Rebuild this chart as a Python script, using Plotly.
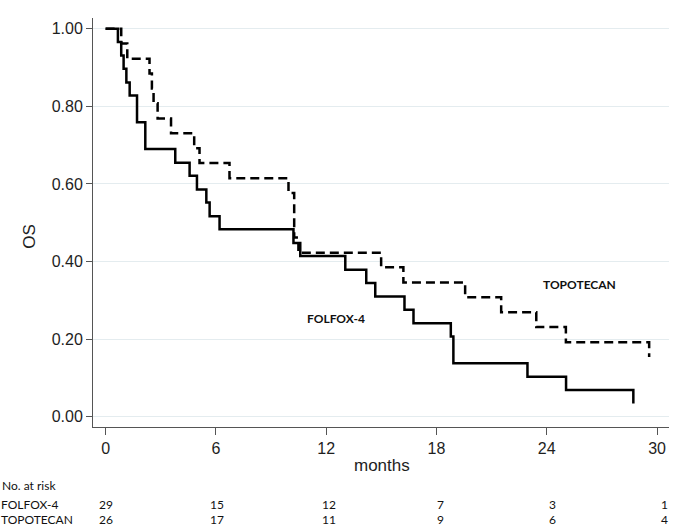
import plotly.graph_objects as go

# Kaplan-Meier step data (months, survival)
folfox_time = [0, 0.67, 0.85, 0.98, 1.13, 1.31, 1.71, 2.16, 3.79, 4.57, 4.97, 5.48, 5.66, 6.20,
               10.22, 10.59, 13.04, 14.18, 14.67, 16.26, 16.75, 18.78, 18.92, 22.95, 25.05, 28.71]
folfox_surv = [1.000, 0.966, 0.931, 0.897, 0.862, 0.828, 0.759, 0.690, 0.655, 0.621, 0.586, 0.552,
               0.517, 0.483, 0.448, 0.414, 0.379, 0.345, 0.310, 0.276, 0.241, 0.207, 0.138, 0.103,
               0.069, 0.034]

topo_time = [0, 0.85, 1.18, 2.39, 2.52, 2.61, 2.83, 3.56, 4.82, 5.11, 6.74, 9.95, 10.26, 10.49,
             14.99, 16.20, 19.56, 21.52, 23.43, 25.04, 29.57]
topo_surv = [1.000, 0.962, 0.923, 0.885, 0.846, 0.808, 0.769, 0.731, 0.692, 0.654, 0.615, 0.577,
             0.462, 0.423, 0.385, 0.346, 0.308, 0.269, 0.231, 0.192, 0.154]

x_ticks = [0, 6, 12, 18, 24, 30]
y_ticks = [0.0, 0.2, 0.4, 0.6, 0.8, 1.0]
y_ticklabels = ["0.00", "0.20", "0.40", "0.60", "0.80", "1.00"]

risk_groups = ["FOLFOX-4", "TOPOTECAN"]
risk_folfox = [29, 15, 12, 7, 3, 1]
risk_topo = [26, 17, 11, 9, 6, 4]

fig = go.Figure()
fig.add_trace(go.Scatter(x=folfox_time, y=folfox_surv, mode="lines", line_shape="hv",
                         line=dict(color="black", width=2.5), name="FOLFOX-4",
                         showlegend=False))
fig.add_trace(go.Scatter(x=topo_time, y=topo_surv, mode="lines", line_shape="hv",
                         line=dict(color="black", width=2.5, dash="9px,5px"), name="TOPOTECAN",
                         showlegend=False))

axis_font = dict(family="Liberation Sans, Arial, sans-serif", size=16, color="#1e1e1e")
table_font = dict(family="Lato, sans-serif", size=12, color="#111111")

fig.update_layout(
    width=685, height=526,
    margin=dict(l=93, r=16, t=18, b=99),
    paper_bgcolor="white", plot_bgcolor="white",
    xaxis=dict(range=[-0.685, 30.65], tickvals=x_ticks, ticks="outside", ticklen=7,
               tickcolor="#555555", showline=True, linecolor="#555555", linewidth=1,
               showgrid=False, zeroline=False, tickfont=axis_font),
    yaxis=dict(range=[-0.0266, 1.028], tickvals=y_ticks, ticktext=y_ticklabels,
               ticks="outside", ticklen=6, tickcolor="#555555", showline=True,
               linecolor="#555555", linewidth=1, showgrid=True, gridcolor="#e4ecef",
               gridwidth=1, zeroline=False, tickfont=axis_font),
)

annotations = []
# axis titles
annotations.append(dict(text="months", xref="paper", yref="paper", x=0.501, y=-0.093,
                        xanchor="center", yanchor="middle", showarrow=False,
                        font=dict(family=axis_font["family"], size=17, color="#1e1e1e")))
annotations.append(dict(text="OS", xref="paper", yref="paper", x=0, xshift=-63, y=0.465,
                        xanchor="center", yanchor="middle", textangle=-90, showarrow=False,
                        font=dict(family=axis_font["family"], size=17, color="#1e1e1e")))
# curve labels
annotations.append(dict(text="<b>FOLFOX-4</b>", x=12.53, y=0.254, xref="x", yref="y",
                        showarrow=False, font=table_font))
annotations.append(dict(text="<b>TOPOTECAN</b>", x=25.77, y=0.340, xref="x", yref="y",
                        showarrow=False, font=table_font))
# risk table
row_y = [-0.143, -0.19, -0.225]
annotations.append(dict(text="No. at risk", xref="paper", yref="paper", x=0, xshift=-92,
                        y=row_y[0], xanchor="left", yanchor="middle", showarrow=False,
                        borderpad=0, font=table_font))
for gi, (grp, vals) in enumerate(zip(risk_groups, [risk_folfox, risk_topo])):
    annotations.append(dict(text=grp, xref="paper", yref="paper", x=0, xshift=-93,
                            y=row_y[gi + 1], xanchor="left", yanchor="middle",
                            showarrow=False, borderpad=0, font=table_font))
    for t, v in zip(x_ticks, vals):
        annotations.append(dict(text=str(v), xref="x", yref="paper", x=t, xshift=t * 0.25,
                                y=row_y[gi + 1], xanchor="center", yanchor="middle",
                                showarrow=False, borderpad=0, font=table_font))

fig.update_layout(annotations=annotations)
fig.write_html("out.html", config={"displayModeBar": False},
               post_script="document.body.style.margin='0';document.body.style.overflow='hidden';")
